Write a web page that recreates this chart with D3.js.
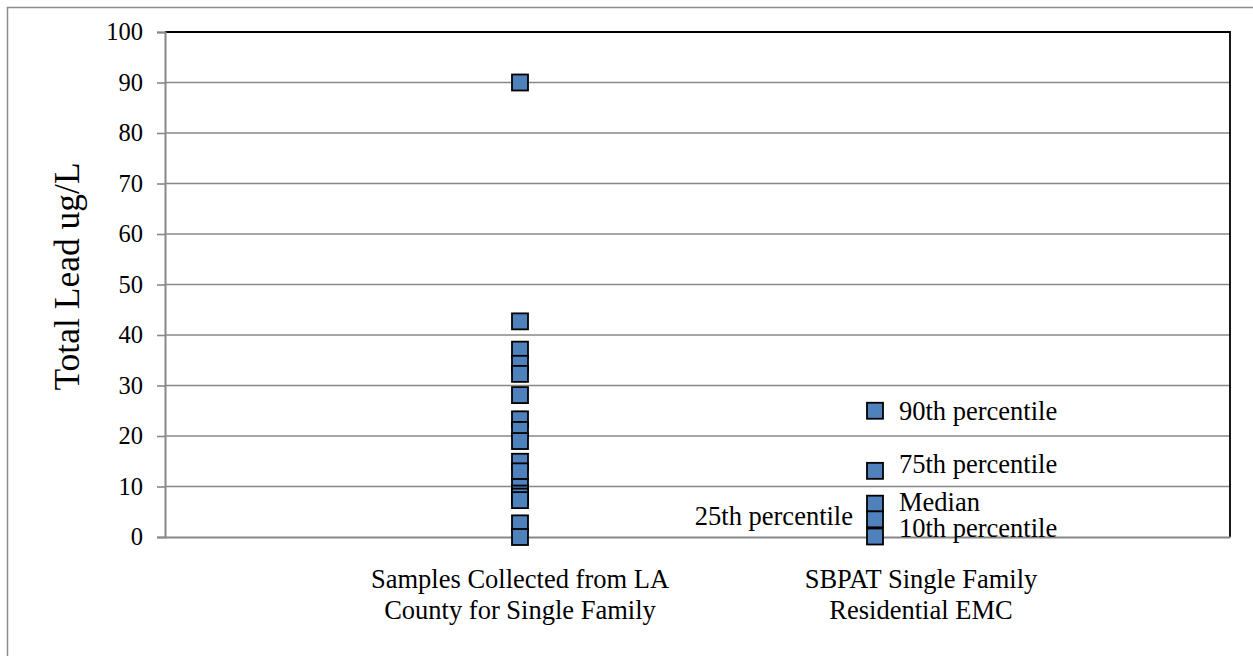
<!DOCTYPE html>
<html>
<head>
<meta charset="utf-8">
<script src="https://cdn.jsdelivr.net/npm/d3@7"></script>
<style>
  html, body { margin: 0; padding: 0; background: #fff; }
  svg { display: block; }
  text { font-family: "Liberation Serif", "Times New Roman", serif; fill: #000; }
</style>
</head>
<body>
<svg id="chart" width="1253" height="656"></svg>
<script>
// ---- data ----
const categoryLabels = [
  ["Samples Collected from LA", "County for Single Family"],
  ["SBPAT Single Family", "Residential EMC"]
];
const categoryX = [1, 2];
const sampleValues = [90, 42.7, 37.1, 34.3, 32.3, 28.1, 23.3, 21.2, 19.0, 14.9, 13.0, 9.9, 8.6, 8.0, 7.3, 2.7, 0];
const percentileNames = ["90th percentile", "75th percentile", "Median", "25th percentile", "10th percentile"];
const percentileValues = [25.0, 13.1, 6.6, 3.5, 0.1];
const yTicks = [0, 10, 20, 30, 40, 50, 60, 70, 80, 90, 100];
const yTitle = "Total Lead ug/L";

// ---- layout ----
const svg = d3.select("#chart");
const L = 165, R = 1230, T = 32, B = 537;
const x = d3.scaleLinear().domain([0, 3]).range([L, R]);
const y = d3.scaleLinear().domain([0, 100]).range([B, T]);
const gridColor = "#888888";
const serif = '"Liberation Serif", "Times New Roman", serif';

// outer border
svg.append("rect").attr("x", 7.5).attr("y", 7.5).attr("width", 1260).attr("height", 660)
  .attr("fill", "none").attr("stroke", "#8c8c8c").attr("stroke-width", 1.5);

// gridlines
svg.append("g").selectAll("line").data(yTicks.filter(d => d > 0)).join("line")
  .attr("x1", L).attr("x2", R)
  .attr("y1", d => y(d)).attr("y2", d => y(d))
  .attr("stroke", gridColor).attr("stroke-width", 1.6);

// plot border top/right (black)
svg.append("path")
  .attr("d", `M${L},${T}H${R}V${B}`)
  .attr("fill", "none").attr("stroke", "#000").attr("stroke-width", 1.8);

// y axis
const yAxis = d3.axisLeft(y).tickValues(yTicks).tickSize(8).tickPadding(14).tickFormat(d3.format("d"));
const gy = svg.append("g").attr("transform", `translate(${L},0)`).call(yAxis);
gy.attr("font-family", null).attr("font-size", null);
gy.select(".domain").attr("stroke", gridColor).attr("stroke-width", 2);
gy.selectAll(".tick line").attr("stroke", gridColor).attr("stroke-width", 1.6);
gy.selectAll(".tick text")
  .style("font-family", serif)
  .style("font-size", "24.5px").attr("fill", "#000");

// x axis line
const xAxis = d3.axisBottom(x).tickValues([]).tickSizeOuter(0);
const gx = svg.append("g").attr("transform", `translate(0,${B})`).call(xAxis);
gx.select(".domain").attr("stroke", gridColor).attr("stroke-width", 2);

// y title
svg.append("text")
  .attr("transform", `translate(79,${(T + B) / 2 - 8}) rotate(-90)`)
  .attr("text-anchor", "middle")
  .style("font-size", "35.5px")
  .text(yTitle);

// category labels
categoryLabels.forEach((lines, i) => {
  const t = svg.append("text").attr("text-anchor", "middle").style("font-size", "26.5px");
  lines.forEach((ln, j) => {
    t.append("tspan").attr("x", x(categoryX[i]) + (i === 1 ? 46 : 0)).attr("y", 588 + j * 31).text(ln);
  });
});

// markers
const S = 16;
const markerFill = "#4F81BD";
function squares(data, cx) {
  svg.append("g").selectAll("rect").data(data).join("rect")
    .attr("x", x(cx) - S / 2)
    .attr("y", d => y(d) - S / 2)
    .attr("width", S).attr("height", S)
    .attr("fill", markerFill).attr("stroke", "#000").attr("stroke-width", 1.8);
}
squares(sampleValues, categoryX[0]);
squares(percentileValues, categoryX[1]);

// percentile data labels
const labelNudge = { "75th percentile": -7, "Median": -2, "25th percentile": -3 };
percentileNames.forEach((name, i) => {
  const v = percentileValues[i];
  const left = name === "25th percentile";
  const by = Math.min(y(v) + 9, B) + (labelNudge[name] || 0);
  svg.append("text")
    .attr("x", left ? x(categoryX[1]) - 22 : x(categoryX[1]) + 24)
    .attr("y", by)
    .attr("text-anchor", left ? "end" : "start")
    .style("font-size", "26.5px")
    .text(name);
});
</script>
</body>
</html>
